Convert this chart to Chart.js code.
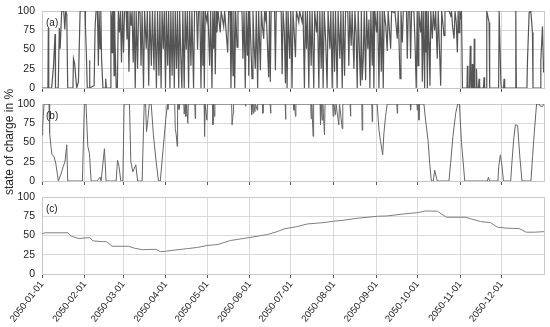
<!DOCTYPE html>
<html>
<head>
<meta charset="utf-8">
<script src="https://cdn.jsdelivr.net/npm/chart.js@4.4.1/dist/chart.umd.min.js"></script>
<style>
  html, body { margin: 0; padding: 0; background: #fff; }
  #wrap { position: relative; width: 550px; height: 327px; overflow: hidden; }
  #wrap canvas { position: absolute; left: 0; }
  #ytitle {
    position: absolute; left: 9px; top: 142px; width: 0; height: 0;
    font: 12px 'Liberation Sans', Arial, sans-serif; color: #222;
  }
  #ytitle span {
    position: absolute; white-space: nowrap;
    transform: translate(-50%, -50%) rotate(-90deg);
  }
</style>
</head>
<body>
<div id="wrap">
  <canvas id="chartA" width="550" height="96" style="top:0px"></canvas>
  <canvas id="chartB" width="550" height="92" style="top:96px"></canvas>
  <canvas id="chartC" width="550" height="139" style="top:188px"></canvas>
  <div id="ytitle"><span>state of charge in %</span></div>
</div>
<script>
// x = day of year 2050, y = state of charge in %
var monthStart = [0, 31, 59, 90, 120, 151, 181, 212, 243, 273, 304, 334]
var monthLabel = ['2050-01-01', '2050-02-01', '2050-03-01', '2050-04-01', '2050-05-01', '2050-06-01',
    '2050-07-01', '2050-08-01', '2050-09-01', '2050-10-01', '2050-11-01', '2050-12-01']
var yTicks = [0, 25, 50, 75, 100]

// (a) short-term storage
var socA = [
    [0,0],[4.3,0],[4.6,78],[4.9,0],[7,0],[7.3,6],[8.3,27],[9.5,70],[9.8,0],
    [11.8,0],[12.6,78],[13.2,51],[14.3,100],[15.8,100],[16.6,76],[17.2,100],[18,96],[18.7,0],
    [22.5,0],[22.9,38],[23.8,31],[25.2,0],[26.5,8],[27.7,100],[31.3,100],[31.6,79],[32.3,42],[32.9,0],
    [34.2,0],[34.5,36],[34.9,0],
    [37.9,3],[38.6,79],[39.3,100],[40.3,100],[41,29],[41.5,100],[42.2,51],[42.8,100],[43.3,38],[44.3,0],
    [46,0],[46.3,12],[46.8,0],
    [49.6,0],[50.1,100],[50.6,89],[51,46],[51.4,100],[52,100],[52.4,16],[52.8,100],[53.1,59],[54,0],
    [54.8,0],[55.5,100],[56.3,72],[57,100],[57.8,33],[58.5,100],[59.3,46],[60,100],[61.2,100],[61.8,63],
    [62.5,100],[63.2,21],[64,100],[64.8,81],[65.5,100],[66.3,33],[67,100],[67.8,0],[68.5,100],[69.5,25],
    [70.2,100],[71.3,98],[72,29],[72.8,100],[73.8,0],[74.6,100],[75.8,51],[76.6,100],[77.6,3],[78.4,100],
    [79.5,29],[80.3,100],[81.4,23],[82.1,100],[83.2,0],[84,100],[85,16],[85.7,100],[86.6,0],[87.3,100],
    [88.2,51],[88.9,100],[89.8,0],[90.5,100],[91.4,29],[92.1,100],[93,0],[93.7,100],[94.6,16],[95.3,100],
    [96.2,0],[96.9,100],[97.8,25],[98.5,100],[99.4,0],[100.1,100],[100.9,42],[101.7,0],[102.4,100],[103.4,0],
    [104.1,100],[104.9,50],[105.7,100],[106.6,0],[107.3,100],[108.3,29],[109,100],[110.2,0],[110.9,100],
    [112.4,100],[113.1,50],[113.8,100],[114.8,100],[115.6,0],[116.3,100],[117,29],[117.5,100],[118,0],
    [118.7,100],[119.9,87],[120.6,100],[121.9,29],[122.6,100],[123.6,0],[124.2,100],[124.8,51],[125.4,100],
    [126,18],[126.6,100],[127.2,72],[128,100],[129.6,72],[130.3,100],[132.1,80],[132.8,100],[135,46],
    [135.7,100],[136.7,100],[137.4,0],[138.1,100],[138.9,16],[139.5,100],[140.1,0],[140.8,100],[141.8,53],
    [142.5,100],[145.4,100],[146.1,38],[146.9,100],[147.8,0],[148.5,100],[149.3,42],[150,100],[150.3,16],
    [151,100],[151.8,60],[152.7,12],[153.4,100],[154.2,55],[155.1,25],[155.8,100],[156.8,0],[157.5,100],
    [158.8,23],[159.5,100],[160.3,80],[161.2,64],[161.8,100],[162.4,90],[163,100],[164.8,14],[165.4,100],
    [166,8],[166.6,100],[169.1,100],[169.7,23],[170.3,100],[173.9,100],[174.6,18],[175.3,100],[176.2,72],
    [177,6],[177.6,100],[178.2,0],[178.9,100],[180.1,38],[180.9,100],[181.8,0],[182.5,100],[184.3,40],
    [185,100],[186.7,86],[187.3,100],[189.1,86],[189.8,100],[190.8,0],[191.5,100],[192.3,51],[193,100],
    [194,0],[194.7,100],[195.7,29],[196.4,100],[197.6,0],[198.3,100],[199.6,72],[200.3,100],[201.3,0],
    [202,100],[203,25],[203.7,100],[204.4,0],[205.2,100],[206.3,60],[207.3,0],[208,100],[209.3,51],
    [210,100],[211,0],[211.7,100],[212.7,21],[213.4,100],[214.6,0],[215.3,100],[216.6,38],[217.3,100],
    [218.3,0],[219,100],[220,16],[220.7,100],[222.3,100],[223.1,29],[223.8,100],[224.8,55],[225.5,100],
    [226.8,25],[227.5,100],[228.4,70],[229.2,0],[229.9,100],[230.8,45],[231.6,3],[232.2,100],[232.8,10],
    [233.6,38],[234.3,100],[235.3,10],[236,100],[236.9,51],[237.7,89],[238.4,0],[239.1,100],[240.1,29],
    [240.7,100],[241.3,0],[242,100],[243.3,72],[244,100],[245,0],[245.7,100],[246.7,21],[247.4,100],
    [248.1,0],[248.8,100],[250,80],[251,48],[251.7,100],[253.5,51],[254.2,100],[255.9,98],[256.6,100],
    [258.3,64],[259,100],[260.3,12],[261,100],[262,59],[262.7,100],[265,100],[265.6,38],[266.3,100],
    [267.4,100],[268,38],[268.7,100],[270.4,100],[271.2,60],[272.1,0],[272.8,100],[273.4,29],[274,100],
    [275.3,72],[276,100],[276.5,8],[277.2,100],[278.2,0],[278.6,100],[279,46],[279.6,100],[280.2,0],
    [280.8,100],[281.4,59],[282.1,3],[282.7,100],[283.8,64],[284.5,100],[285.5,75],[286.2,100],[287.4,38],
    [288.1,100],[289.9,3],[290.6,100],[292.3,68],[293,100],[296,100],[297.2,94],[297.8,100],[298.5,80],
    [299.6,64],[300.3,100],[301.2,85],[302,46],[302.6,100],[303.2,72],[303.8,100],[304.4,89],[305,100],
    [305.7,0],[309,0],[309.3,29],[309.7,0],[310.8,0],[311.4,55],[311.9,0],[312.6,0],[312.9,31],[313.3,0],
    [314,0],[314.3,64],[314.7,0],[315.6,0],[315.9,25],[316.3,0],[317.4,0],[317.8,12],[318.2,0],
    [321,0],[321.4,14],[321.8,0],[323,0],[323.4,100],
    [325.1,85],[325.5,0],[332,0],[332.4,100],[333.6,10],[334,0],[335.6,0],[336,12],[336.4,0],[344.1,0],
    [344.5,100],[344.9,0],[352.6,0],[353,36],[354.2,98],[355.4,100],[356.6,72],[357,0],[362.3,0],
    [362.7,36],[363.9,80],[364.7,21],[365,21]
]

// (b) medium-term storage
var socB = [
    [0,60],[0.5,73],[1.5,100],[5.1,100],[5.3,80],[5.8,62],[6.5,45],[7.3,34],[8.7,32],[10,23],[11.9,0],
    [13.6,8],[15.5,19],[16.7,25],[18,47],[18.7,0],
    [29.4,0],[30.8,100],[32,100],[33.3,45],[34.5,36],[35.7,0],
    [39.8,0],[41,2],[42.2,5],[43,0],[45.4,42],[46.6,0],
    [53.9,0],[54.9,27],[56,19],[57.3,0],
    [58.8,0],[59.7,100],[63.6,100],[64.6,25],[66,12],[68.2,21],[69.5,0],
    [72.8,0],[74.3,100],[75.3,100],[76,64],[77,80],[78,100],[79.4,100],[81,60],[83,25],[84.7,0],
    [86,0],[88,40],[90,80],[91.2,100],
    [91.5,93],[91.8,100],[96.5,100],[96.9,68],[97.6,60],[98.3,45],[98.6,100],[99.4,100],[99.6,93],[99.9,100],
    [103.1,100],[103.4,87],[104,100],[104.6,84],[105.2,100],[106,75],[106.4,100],[111.1,100],[111.4,81],
    [111.7,100],[117.9,100],[118.2,58],[118.6,100],[119.9,79],[120.3,100],[124,100],[124.3,73],[124.8,100],
    [125.3,84],[125.7,100],[137.9,100],[138.2,73],[139,88],[139.3,100],[147.7,100],[148,97],[148.3,100],
    [152.1,100],[152.4,86],[153,100],[153.5,88],[154,100],[154.8,90],[155.2,100],[156.5,92],[156.8,100],
    [160.3,100],[160.6,88],[160.9,100],[165.9,100],[166.2,88],[166.5,100],[176.8,100],[177.1,80],[177.4,100],
    [182.9,100],[183.2,92],[183.6,100],[184.3,84],[184.6,100],[195.4,100],[195.7,81],[196.2,100],[197.1,58],
    [197.5,100],[202.2,100],[202.5,73],[203,100],[203.7,79],[204.2,100],[205.4,60],[205.8,100],[211.4,100],
    [211.7,84],[212.2,100],[213.4,86],[213.8,100],[215.8,73],[216.3,100],[218.3,68],[218.7,100],[224,100],
    [224.3,84],[224.6,100],[232.5,100],[232.8,66],[233.2,100],[239.8,100],[240.1,77],[240.4,100],
    [243.7,100],[245,66],[246.2,51],[247.7,34],[248.6,62],[249.8,84],[251,100],[258,100],[258.3,88],
    [258.6,100],[267.7,100],[268,92],[268.3,100],[272.6,100],[272.9,92],[273.4,100],[274.1,79],[274.5,100],
    [277.7,100],[278.9,79],[280.7,53],[281.9,23],[283.1,0],[284.5,0],[285.5,14],[287.4,0],[295.9,0],
    [297.1,23],[298.8,58],[300.8,88],[302.2,100],[303.5,100],[305,50],[307.4,0],[323.8,0],[324.6,5],
    [325.4,0],[331.5,0],[332.1,19],[333.3,34],[334.5,19],[335.5,0],[340.8,0],[341.5,20],[343,55],[344.2,73],
    [345.8,72],[347.5,30],[349,0],[355.5,0],[356.7,32],[357.9,62],[359.6,100],[361.5,100],[362.5,97],
    [364,97],[365,100]
]

// (c) long-term storage
var socC = [
    [0,52],[2,53.5],[19,53.5],[20.5,50],[22,48.7],[27,46],[32,47],[35,47],[37,43],[44,42],[47,42],[51,36],
    [63,36],[67,33.6],[73,31.5],[80,32],[83,32],[86,29],[90,29.5],[96,31],[106,33],[113,34.5],[120,37],
    [128,38.4],[137,43.5],[151,47.4],[164,51.3],[171,55],[176,58.6],[185.5,61.6],[193,65],[205,66.8],
    [212,68.5],[219,69.8],[229,72.4],[244,75],[251,75.4],[263,78],[273,79.7],[279,81.9],[287.5,81.5],
    [294,73.7],[308,73.7],[312,71.6],[319,68],[326,66.8],[331,60.8],[338,59.5],[347,59],[352,54.3],
    [358,54.3],[365,55]
]

Chart.defaults.font.family = "'Liberation Sans', Arial, sans-serif"
Chart.defaults.font.size = 10
Chart.defaults.color = '#222'

function toXY(pairs) {
    return pairs.map(function (p) { return { x: p[0], y: p[1] } })
}

// frame round the plot area + panel tag in the corner
var framePlugin = {
    id: 'frame',
    beforeDatasetsDraw: function (chart) {
        var a = chart.chartArea, ctx = chart.ctx
        ctx.save()
        ctx.strokeStyle = '#c8c8c8'
        ctx.lineWidth = 1
        ctx.strokeRect(a.left + 0.5, a.top + 0.5, a.right - a.left, a.bottom - a.top)
        ctx.restore()
    },
    afterDatasetsDraw: function (chart, args, opts) {
        var a = chart.chartArea, ctx = chart.ctx
        ctx.save()
        ctx.fillStyle = '#222'
        ctx.font = "10px 'Liberation Sans', Arial, sans-serif"
        ctx.textBaseline = 'top'
        ctx.fillText(opts.tag, a.left + 4, a.top + 7)
        ctx.restore()
    }
}

function noPad(s) {
    s.paddingTop = 0
    s.paddingBottom = 0
    s.paddingLeft = 0
    s.paddingRight = 0
}

function makePanel(id, pairs, lineColor, lineWidth, tag, padTop, axisHeight, showDates) {
    return new Chart(document.getElementById(id), {
        type: 'line',
        data: {
            datasets: [{
                data: toXY(pairs),
                borderColor: lineColor,
                borderWidth: lineWidth,
                pointRadius: 0,
                tension: 0,
                fill: false
            }]
        },
        options: {
            responsive: false,
            animation: false,
            events: [],
            layout: { padding: { top: padTop, right: 6, left: 0, bottom: 0 } },
            plugins: {
                legend: { display: false },
                tooltip: { enabled: false },
                frame: { tag: tag }
            },
            scales: {
                x: {
                    type: 'linear',
                    min: 0,
                    max: 365,
                    afterBuildTicks: function (s) {
                        s.ticks = monthStart.map(function (v) { return { value: v } })
                    },
                    afterFit: function (s) { s.height = axisHeight; noPad(s) },
                    grid: { color: '#d9d9d9', tickColor: '#555', tickLength: 4 },
                    border: { display: false },
                    ticks: {
                        display: showDates,
                        autoSkip: false,
                        maxRotation: 52,
                        minRotation: 52,
                        padding: 1,
                        color: '#222',
                        font: { size: 9.5 },
                        callback: function (v, i) { return monthLabel[i] }
                    }
                },
                y: {
                    min: 0,
                    max: 100,
                    afterBuildTicks: function (s) {
                        s.ticks = yTicks.map(function (v) { return { value: v } })
                    },
                    afterFit: function (s) { s.width = 42; noPad(s) },
                    grid: { color: '#d9d9d9', drawTicks: false },
                    border: { display: false },
                    ticks: { padding: 7, color: '#222', font: { size: 10.5 } }
                }
            }
        },
        plugins: [framePlugin]
    })
}

var chartA = makePanel('chartA', socA, '#555555', 1.2, '(a)', 11, 8, false)
var chartB = makePanel('chartB', socB, '#666666', 1, '(b)', 8, 7, false)
var chartC = makePanel('chartC', socC, '#7f7f7f', 1, '(c)', 9, 53, true)
</script>
</body>
</html>
